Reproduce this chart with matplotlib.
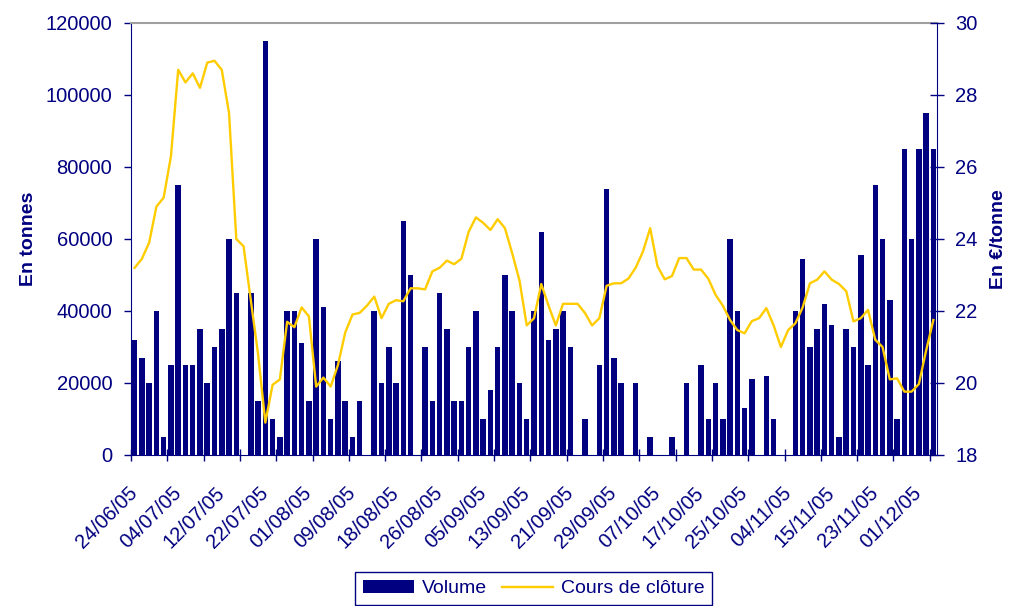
import numpy as np
import matplotlib
matplotlib.use("Agg")
import matplotlib.pyplot as plt

NAVY = "#000080"
GOLD = "#FFCC00"

# daily volume (tonnes), one value per trading day
volume = [
    32000, 27000, 20000, 40000, 5000,
    25000, 75000, 25000, 25000, 35000,
    20000, 30000, 35000, 60000, 45000,
    0, 45000, 15000, 115000, 10000,
    5000, 40000, 40000, 31000, 15000,
    60000, 41000, 10000, 26000, 15000,
    5000, 15000, 0, 40000, 20000,
    30000, 20000, 65000, 50000, 0,
    30000, 15000, 45000, 35000, 15000,
    15000, 30000, 40000, 10000, 18000,
    30000, 50000, 40000, 20000, 10000,
    40000, 62000, 32000, 35000, 40000,
    30000, 0, 10000, 0, 25000,
    74000, 27000, 20000, 0, 20000,
    0, 5000, 0, 0, 5000,
    0, 20000, 0, 25000, 10000,
    20000, 10000, 60000, 40000, 13000,
    21000, 0, 22000, 10000, 0,
    0, 40000, 54500, 30000, 35000,
    42000, 36000, 5000, 35000, 30000,
    55500, 25000, 75000, 60000, 43000,
    10000, 85000, 60000, 85000, 95000,
    85000,
]

# closing price (EUR/tonne)
close = [
    23.2, 23.45, 23.9, 24.9, 25.15, 26.3, 28.7, 28.35, 28.6, 28.2,
    28.9, 28.95, 28.7, 27.5, 24.0, 23.8, 22.3, 20.8, 18.9, 19.95,
    20.1, 21.7, 21.55, 22.1, 21.85, 19.9, 20.15, 19.9, 20.5, 21.4,
    21.9, 21.95, 22.15, 22.4, 21.8, 22.2, 22.3, 22.27, 22.63, 22.63,
    22.6, 23.1, 23.2, 23.4, 23.3, 23.45, 24.2, 24.6, 24.45, 24.25,
    24.55, 24.3, 23.6, 22.85, 21.6, 21.8, 22.75, 22.15, 21.6, 22.2,
    22.2, 22.2, 21.95, 21.6, 21.8, 22.7, 22.77, 22.77, 22.9, 23.2,
    23.65, 24.3, 23.25, 22.88, 22.97, 23.47, 23.47, 23.15, 23.15, 22.9,
    22.45, 22.15, 21.75, 21.47, 21.38, 21.72, 21.8, 22.08, 21.6, 21.0,
    21.47, 21.66, 22.1, 22.77, 22.87, 23.1, 22.87, 22.75, 22.55, 21.71,
    21.8, 22.03, 21.2, 21.0, 20.1, 20.13, 19.76, 19.76, 19.97, 20.9,
    21.75,
]

date_labels = [
    "24/06/05", "04/07/05", "12/07/05", "22/07/05", "01/08/05", "09/08/05",
    "18/08/05", "26/08/05", "05/09/05", "13/09/05", "21/09/05", "29/09/05",
    "07/10/05", "17/10/05", "25/10/05", "04/11/05", "15/11/05", "23/11/05",
    "01/12/05",
]
LABEL_STEP = 6   # one date label every 6 sessions
TICK_STEP = 5    # one tick mark every 5 sessions

plt.rcParams["font.family"] = ["Liberation Sans", "DejaVu Sans"]
FS = 14.5        # tick labels
FS_LAB = 14      # axis titles and legend

fig = plt.figure(figsize=(10.09, 6.06), dpi=100)
ax = fig.add_axes([131 / 1009, 1 - 455 / 606, (937 - 131) / 1009, (455 - 23) / 606])

n = len(volume)
x = np.arange(n)
bars = ax.bar(x, volume, width=0.76, color=NAVY, label="Volume", zorder=2)
ax.set_xlim(-0.5, n - 0.5)
ax.set_ylim(0, 120000)
ax.set_yticks(range(0, 120001, 20000))
ax.set_ylabel("En tonnes", fontsize=FS_LAB, fontweight="bold", color=NAVY,
              labelpad=6)

ax.set_xticks(np.arange(-0.5, n, TICK_STEP))
ax.set_xticklabels([])
ax.set_xticks(np.arange(0, n, LABEL_STEP)[:len(date_labels)], minor=True)
ax.set_xticklabels(date_labels, minor=True, rotation=45, ha="right",
                   va="center", rotation_mode="anchor")
ax.tick_params(axis="x", which="major", direction="inout", length=9,
               color=NAVY, width=1)
ax.tick_params(axis="x", which="minor", length=0, pad=25,
               labelsize=FS, labelcolor=NAVY)
ax.tick_params(axis="y", direction="out", length=5, color=NAVY, width=1,
               labelsize=FS, labelcolor=NAVY, pad=8.5)

ax2 = ax.twinx()
line, = ax2.plot(x, close, color=GOLD, lw=1.7, label="Cours de clôture")
ax2.set_ylim(18, 30)
ax2.set_yticks(range(18, 31, 2))
ax2.tick_params(axis="y", direction="inout", length=10, color=NAVY, width=1,
                labelsize=FS, labelcolor=NAVY, pad=8)
ax2.set_ylabel("En €/tonne", fontsize=FS_LAB, fontweight="bold", color=NAVY,
               labelpad=9)

for a in (ax, ax2):
    for s in a.spines.values():
        s.set_visible(False)
ax.spines["left"].set_visible(True)
ax.spines["left"].set_color(NAVY)
ax.spines["bottom"].set_visible(True)
ax.spines["bottom"].set_color(NAVY)
ax.spines["top"].set_visible(True)
ax.spines["top"].set_color("#a0a0a0")
ax.spines["top"].set_linewidth(1.5)
ax2.spines["right"].set_visible(True)
ax2.spines["right"].set_color(NAVY)

leg = fig.legend([bars, line], ["Volume", "Cours de clôture"],
                 loc="upper center", bbox_to_anchor=(0.529, 0.056), ncol=2,
                 fontsize=FS_LAB, labelcolor=NAVY, frameon=True, fancybox=False,
                 edgecolor=NAVY, framealpha=1, handlelength=2.6,
                 borderaxespad=0, columnspacing=0.8, handletextpad=0.4)
leg.get_frame().set_linewidth(1)

fig.savefig("out.png", dpi=100)
